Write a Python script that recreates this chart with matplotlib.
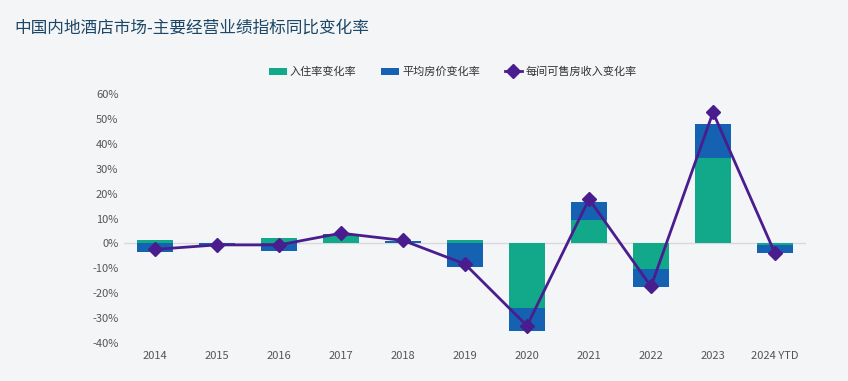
import matplotlib.pyplot as plt
import numpy as np

plt.rcParams['font.family'] = ['Noto Sans CJK SC', 'DejaVu Sans']

years = ["2014", "2015", "2016", "2017", "2018", "2019", "2020", "2021", "2022", "2023", "2024 YTD"]
# occupancy change (%), ADR change (%), RevPAR change (%)
occ = [1.3, 0.2, 2.1, 2.9, 0.3, 1.2, -26.1, 9.3, -10.4, 34.3, -0.7]
adr = [-3.5, -0.8, -3.1, 0.9, 0.8, -9.3, -9.0, 7.3, -7.2, 13.7, -3.0]
revpar = [-2.4, -0.6, -0.6, 4.1, 1.2, -8.3, -33.1, 17.8, -17.3, 52.6, -4.0]

green = "#12a98a"
blue = "#1561b2"
purple = "#4a1d8f"
bg = "#f4f5f7"

occ = np.array(occ)
adr = np.array(adr)
# stack ADR on the same side as occupancy if signs match, else from zero
adr_bottom = np.where(np.sign(occ) == np.sign(adr), occ, 0)

fig = plt.figure(figsize=(8.48, 3.81), dpi=100, facecolor=bg)
ax = fig.add_axes([0.1462, 0.0997, 0.8043, 0.6536], facecolor=bg)

x = np.arange(len(years))
w = 0.57
b1 = ax.bar(x, occ, width=w, color=green, label="入住率变化率", zorder=2)
b2 = ax.bar(x, adr, width=w, bottom=adr_bottom, color=blue, label="平均房价变化率", zorder=2)
l1, = ax.plot(x, revpar, color=purple, lw=2, marker="D", markersize=7, label="每间可售房收入变化率",
              zorder=3, clip_on=False)

ax.axhline(0, color="#d8d9dc", lw=1, zorder=1)
ax.set_ylim(-40, 60)
ax.set_xlim(-0.5, len(years) - 0.5)
ax.set_yticks(range(-40, 61, 10))
ax.set_yticklabels([f"{v}%" for v in range(-40, 61, 10)])
ax.set_xticks(x)
ax.set_xticklabels(years)
ax.tick_params(axis="both", length=0, labelsize=8, colors="#555555", pad=6)
ax.tick_params(axis="y", pad=4)
for s in ax.spines.values():
    s.set_visible(False)

fig.text(0.017, 0.925, "中国内地酒店市场-主要经营业绩指标同比变化率", fontsize=12,
         color="#1c4766", va="center", ha="left")

leg = fig.legend(handles=[b1, b2, l1], loc="center", bbox_to_anchor=(0.534, 0.811), ncol=3,
                 frameon=False, fontsize=8, handlelength=1.6, handleheight=0.7,
                 columnspacing=2.2, handletextpad=0.3)
for t in leg.get_texts():
    t.set_color("#333333")

plt.savefig("out.png", dpi=100, facecolor=bg)
